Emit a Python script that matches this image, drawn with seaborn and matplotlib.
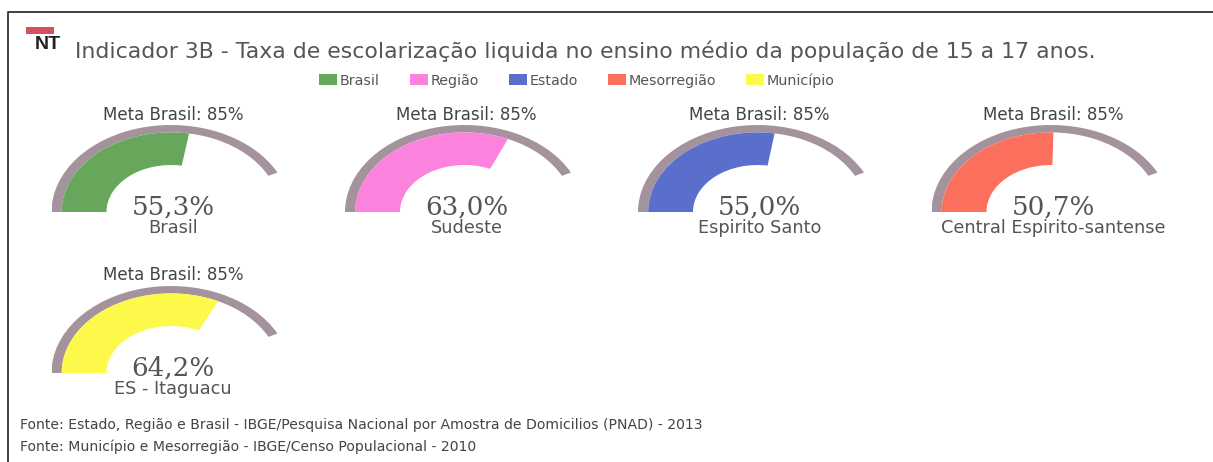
import numpy as np
import seaborn as sns
import matplotlib
matplotlib.use("Agg")
import matplotlib.pyplot as plt
from matplotlib.patches import Wedge, Patch, Rectangle

# ---- data ----
legend_labels = ["Brasil", "Região", "Estado", "Mesorregião", "Município"]
legend_colors = ["#66a75b", "#fb82dd", "#5a6fcb", "#fb6f5c", "#fdf94b"]
gauge_names = ["Brasil", "Sudeste", "Espirito Santo", "Central Espirito-santense", "ES - Itaguacu"]
gauge_values = [55.3, 63.0, 55.0, 50.7, 64.2]
gauge_text = ["55,3%", "63,0%", "55,0%", "50,7%", "64,2%"]
meta_value = 85
meta_label = "Meta Brasil: 85%"
title = "Indicador 3B - Taxa de escolarização liquida no ensino médio da população de 15 a 17 anos."
sources = ["Fonte: Estado, Região e Brasil - IBGE/Pesquisa Nacional por Amostra de Domicilios (PNAD) - 2013",
           "Fonte: Município e Mesorregião - IBGE/Censo Populacional - 2010"]

# ---- layout (pixels) ----
W, H = 1213, 462
centers = [(171, 212), (464.5, 212), (757.5, 212), (1051, 212), (171, 373)]
RX, RY = 119.5, 87

sns.set_theme(style="white")
plt.rcParams["font.family"] = ["DejaVu Sans"]
palette = sns.color_palette(legend_colors)
GRAY = "#a4929c"
TXT = "#555555"

fig = plt.figure(figsize=(W / 100, H / 100), dpi=100, facecolor="white")
bg = fig.add_axes([0, 0, 1, 1])
bg.set_xlim(0, W)
bg.set_ylim(H, 0)
bg.axis("off")

# frame (left and top edges only)
bg.plot([8, 8, W], [H, 11.5, 11.5], color="#333333", lw=1.3)

# badge + NT
bg.add_patch(Rectangle((26, 27), 28, 7, color="#d4505a", lw=0))
bg.text(35, 44.5, "NT", fontsize=14, fontweight="bold", color="#222222", va="center", family="Liberation Sans")

bg.text(75, 51.5, title, fontsize=15.8, color=TXT, va="center")

handles = [Patch(facecolor=c, edgecolor="none", label=l) for c, l in zip(palette, legend_labels)]
bg.legend(handles=handles, ncol=5, loc="center", bbox_to_anchor=(577 / W, 1 - 80.5 / H),
          bbox_transform=fig.transFigure, frameon=False, fontsize=10.3, handlelength=1.25,
          handleheight=0.8, handletextpad=0.2, columnspacing=2.1, labelcolor=TXT, borderpad=0)

for (cx, cy), v, txt, name, col in zip(centers, gauge_values, gauge_text, gauge_names, palette):
    ax = fig.add_axes([(cx - RX) / W, 1 - cy / H, 2 * RX / W, RY / H])
    ax.set_xlim(-1, 1)
    ax.set_ylim(0, 1)
    ax.axis("off")
    meta_end = 180 - 180 * meta_value / 100
    ax.add_patch(Wedge((0, 0), 1.0, meta_end, 180, width=0.085, facecolor=GRAY, edgecolor="none"))
    ax.add_patch(Wedge((0, 0), 0.915, 180 - 180 * v / 100, 180, width=0.375, facecolor=col, edgecolor="none"))
    bg.text(cx + 2, cy - 97.5, meta_label, fontsize=12, color="#444444", ha="center", va="center")
    bg.text(cx + 2, cy - 5, txt, fontsize=18.8, family="DejaVu Serif", color=TXT, ha="center", va="center")
    bg.text(cx + 2, cy + 16, name, fontsize=12.8, color=TXT, ha="center", va="center")

for y, s in zip([425, 447], sources):
    bg.text(20, y, s, fontsize=10.1, color="#444444", va="center")

fig.savefig("out.png", dpi=100, facecolor="white")
